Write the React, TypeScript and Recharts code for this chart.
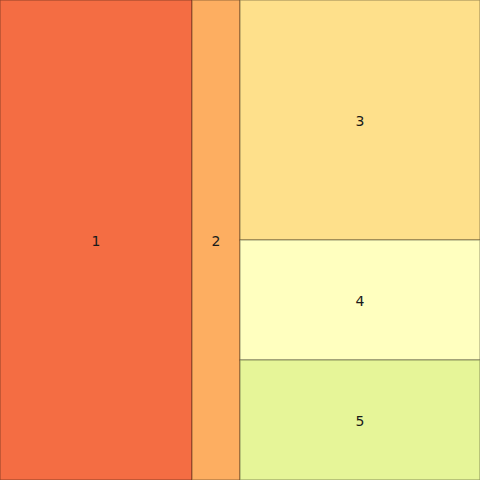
import React from 'react';
import { Treemap } from 'recharts';

const names = ['1', '2', '3', '4', '5'];
const values = [16, 4, 10, 5, 5];
const colors = ['#f46d43', '#fdae61', '#fee08b', '#ffffbf', '#e6f598'];

const leaf = (i: number) => ({ name: names[i], size: values[i] });

// nesting only steers the squarify layout; the groups themselves are not drawn
const data = [
  leaf(0),
  {
    name: 'rest',
    children: [
      leaf(1),
      {
        name: 'right',
        children: [{ name: 'top', children: [leaf(2), leaf(3)] }, leaf(4)],
      },
    ],
  },
];

const Cell = (props: any) => {
  const { x, y, width, height, name, children } = props;
  if (children && children.length) return null;
  const idx = names.indexOf(name);
  if (idx < 0) return null;
  return (
    <g>
      <rect x={x} y={y} width={width} height={height} fill={colors[idx]} stroke="rgba(0,0,0,0.4)" strokeWidth={1} />
      <text
        x={x + width / 2}
        y={y + height / 2 + 1}
        textAnchor="middle"
        dominantBaseline="central"
        fontFamily="DejaVu Sans"
        fontSize={14}
        fill="#1a1a1a"
      >
        {name}
      </text>
    </g>
  );
};

export default function App() {
  return (
    <div style={{ position: 'absolute', left: 0, top: 0 }}>
      <Treemap
        width={480}
        height={480}
        data={data}
        dataKey="size"
        aspectRatio={1.8}
        isAnimationActive={false}
        content={<Cell />}
      />
    </div>
  );
}
